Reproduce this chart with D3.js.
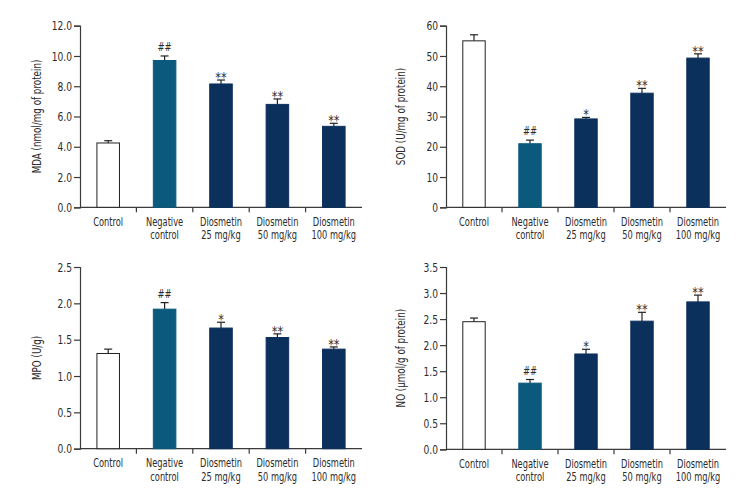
<!DOCTYPE html>
<html>
<head>
<meta charset="utf-8">
<script src="https://cdn.jsdelivr.net/npm/d3@7"></script>
<style>
  html, body { margin: 0; padding: 0; background: #fff; }
  svg text { font-family: "DejaVu Sans Condensed", "DejaVu Sans", sans-serif; fill: #2b2b2b; }
</style>
</head>
<body>
<svg id="chart" width="756" height="504"></svg>
<script>
// ---- data ----
const categories = ["Control", "Negative control", "Diosmetin 25 mg/kg", "Diosmetin 50 mg/kg", "Diosmetin 100 mg/kg"];
const categoryLines = [["Control"], ["Negative", "control"], ["Diosmetin", "25 mg/kg"], ["Diosmetin", "50 mg/kg"], ["Diosmetin", "100 mg/kg"]];

const mdaValues = [4.25, 9.7, 8.15, 6.8, 5.35];
const mdaErrors = [0.15, 0.3, 0.26, 0.36, 0.2];
const mdaMarks  = ["", "##", "**", "**", "**"];
const mdaTicks  = [0, 2, 4, 6, 8, 10, 12];

const sodValues = [55.0, 21.0, 29.2, 37.7, 49.3];
const sodErrors = [2.0, 1.2, 0.5, 1.6, 1.4];
const sodMarks  = ["", "##", "*", "**", "**"];
const sodTicks  = [0, 10, 20, 30, 40, 50, 60];

const mpoValues = [1.31, 1.92, 1.66, 1.53, 1.37];
const mpoErrors = [0.06, 0.09, 0.08, 0.05, 0.03];
const mpoMarks  = ["", "##", "*", "**", "**"];
const mpoTicks  = [0, 0.5, 1.0, 1.5, 2.0, 2.5];

const noValues  = [2.45, 1.27, 1.83, 2.46, 2.83];
const noErrors  = [0.07, 0.07, 0.09, 0.17, 0.13];
const noMarks   = ["", "##", "*", "**", "**"];
const noTicks   = [0, 0.5, 1.0, 1.5, 2.0, 2.5, 3.0, 3.5];

const barColors = ["#ffffff", "#0b5a7d", "#0c305c", "#0c305c", "#0c305c"];

// ---- layout ----
const panels = [
  { title: "MDA (nmol/mg of protein)", values: mdaValues, errors: mdaErrors, marks: mdaMarks, ticks: mdaTicks, fmt: d3.format(".1f"),
    x0: 80, x1: 362, yTop: 25.7, yBot: 207.3, labelX: 37 },
  { title: "SOD (U/mg of protein)", values: sodValues, errors: sodErrors, marks: sodMarks, ticks: sodTicks, fmt: d3.format("d"),
    x0: 446, x1: 726, yTop: 25.7, yBot: 207.3, labelX: 401 },
  { title: "MPO (U/g)", values: mpoValues, errors: mpoErrors, marks: mpoMarks, ticks: mpoTicks, fmt: d3.format(".1f"),
    x0: 80, x1: 362, yTop: 267, yBot: 448.7, labelX: 37 },
  { title: "NO (\u00b5mol/g of protein)", values: noValues, errors: noErrors, marks: noMarks, ticks: noTicks, fmt: d3.format(".1f"),
    x0: 446, x1: 726, yTop: 267, yBot: 449.3, labelX: 401 }
];

const svg = d3.select("#chart");
const axisColor = "#3a3a3a";
const SQ = 0.78; // horizontal condensing of text

panels.forEach(p => {
  const g = svg.append("g");
  const x = d3.scaleBand().domain(categories).range([p.x0, p.x1]).paddingInner(0.6).paddingOuter(0.3);
  const xb = d3.scaleBand().domain(categories).range([p.x0, p.x1]);
  const yMax = p.ticks[p.ticks.length - 1];
  const y = d3.scaleLinear().domain([0, yMax]).range([p.yBot, p.yTop]);

  // y axis
  const ya = g.append("g").attr("transform", `translate(${p.x0},0)`)
    .call(d3.axisLeft(y).tickValues(p.ticks).tickFormat(p.fmt).tickSize(6).tickPadding(2));
  ya.select(".domain").attr("stroke", axisColor).attr("stroke-width", 1.2);
  ya.selectAll(".tick line").attr("stroke", axisColor).attr("stroke-width", 1.2);
  ya.selectAll(".tick text")
    .attr("x", 0)
    .attr("transform", `translate(-8,0) scale(${SQ},1)`)
    .style("font-size", "13px").attr("fill", "#2b2b2b");

  // x axis line
  g.append("line").attr("x1", p.x0).attr("x2", p.x1).attr("y1", p.yBot).attr("y2", p.yBot)
    .attr("stroke", axisColor).attr("stroke-width", 1.2);
  // x axis ticks at band boundaries
  g.selectAll(".xtick").data(categories.slice(1)).enter().append("line")
    .attr("x1", d => xb(d)).attr("x2", d => xb(d))
    .attr("y1", p.yBot).attr("y2", p.yBot + 5)
    .attr("stroke", axisColor).attr("stroke-width", 1.2);

  // category labels (one text per line)
  categories.forEach((c, i) => {
    const cx = x(c) + x.bandwidth() / 2;
    categoryLines[i].forEach((line, j) => {
      g.append("text").attr("text-anchor", "middle")
        .attr("transform", `translate(${cx},${p.yBot + 18.5 + j * 13.6}) scale(0.8,1)`)
        .style("font-size", "11.5px")
        .text(line);
    });
  });

  // error bars
  const cap = 4;
  p.values.forEach((v, i) => {
    const cx = x(categories[i]) + x.bandwidth() / 2;
    const top = y(v + p.errors[i]);
    g.append("line").attr("x1", cx).attr("x2", cx).attr("y1", y(v)).attr("y2", top)
      .attr("stroke", "#222").attr("stroke-width", 1.2);
    g.append("line").attr("x1", cx - cap).attr("x2", cx + cap).attr("y1", top).attr("y2", top)
      .attr("stroke", "#222").attr("stroke-width", 1.2);
    if (p.marks[i]) {
      const isHash = p.marks[i].includes("#");
      g.append("text").attr("text-anchor", "middle")
        .attr("transform", `translate(${cx},${top + (isHash ? -5 : 2)}) scale(${isHash ? SQ : 0.9},1)`)
        .style("font-size", isHash ? "12px" : "14px")
        .text(p.marks[i]);
    }
  });

  // bars
  g.selectAll(".bar").data(p.values).enter().append("rect")
    .attr("x", (d, i) => x(categories[i]))
    .attr("width", x.bandwidth())
    .attr("y", d => y(d))
    .attr("height", d => p.yBot - y(d))
    .attr("fill", (d, i) => barColors[i])
    .attr("stroke", (d, i) => i === 0 ? "#222" : barColors[i])
    .attr("stroke-width", 1);

  // y label
  g.append("text")
    .attr("transform", `translate(${p.labelX},${(p.yTop + p.yBot) / 2}) rotate(-90) scale(${SQ},1)`)
    .attr("text-anchor", "middle").attr("dy", "0.35em")
    .style("font-size", "12.5px")
    .text(p.title);
});
</script>
</body>
</html>
